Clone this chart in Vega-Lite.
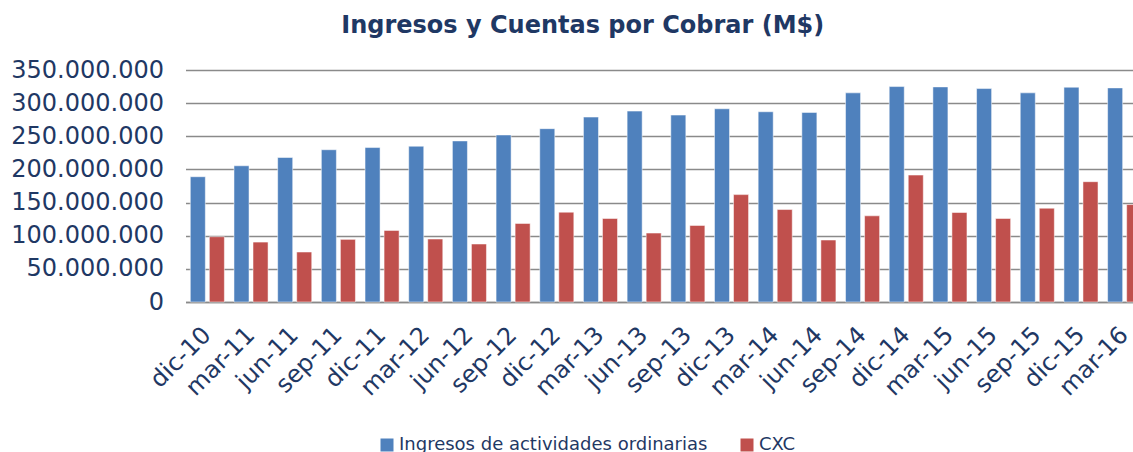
{
  "$schema": "https://vega.github.io/schema/vega-lite/v6.json",
  "width": 947.5,
  "height": 232,
  "autosize": {"type": "none"},
  "padding": {"left": 185.5, "top": 70, "right": 0, "bottom": 150},
  "background": "white",
  "title": {
    "text": "Ingresos y Cuentas por Cobrar (M$)",
    "font": "DejaVu Sans",
    "fontSize": 24,
    "fontWeight": "bold",
    "color": "#1F3864",
    "anchor": "middle",
    "frame": "group",
    "dx": -76.5,
    "offset": 20
  },
  "data": {
    "values": [
      {"q": "dic-10", "serie": "Ingresos de actividades ordinarias", "v": 189000000},
      {"q": "dic-10", "serie": "CXC", "v": 98500000},
      {"q": "mar-11", "serie": "Ingresos de actividades ordinarias", "v": 205500000},
      {"q": "mar-11", "serie": "CXC", "v": 90400000},
      {"q": "jun-11", "serie": "Ingresos de actividades ordinarias", "v": 218000000},
      {"q": "jun-11", "serie": "CXC", "v": 75400000},
      {"q": "sep-11", "serie": "Ingresos de actividades ordinarias", "v": 229700000},
      {"q": "sep-11", "serie": "CXC", "v": 94500000},
      {"q": "dic-11", "serie": "Ingresos de actividades ordinarias", "v": 233000000},
      {"q": "dic-11", "serie": "CXC", "v": 108000000},
      {"q": "mar-12", "serie": "Ingresos de actividades ordinarias", "v": 235000000},
      {"q": "mar-12", "serie": "CXC", "v": 95000000},
      {"q": "jun-12", "serie": "Ingresos de actividades ordinarias", "v": 243000000},
      {"q": "jun-12", "serie": "CXC", "v": 87500000},
      {"q": "sep-12", "serie": "Ingresos de actividades ordinarias", "v": 252000000},
      {"q": "sep-12", "serie": "CXC", "v": 118500000},
      {"q": "dic-12", "serie": "Ingresos de actividades ordinarias", "v": 261500000},
      {"q": "dic-12", "serie": "CXC", "v": 135500000},
      {"q": "mar-13", "serie": "Ingresos de actividades ordinarias", "v": 279000000},
      {"q": "mar-13", "serie": "CXC", "v": 126000000},
      {"q": "jun-13", "serie": "Ingresos de actividades ordinarias", "v": 288000000},
      {"q": "jun-13", "serie": "CXC", "v": 104000000},
      {"q": "sep-13", "serie": "Ingresos de actividades ordinarias", "v": 282000000},
      {"q": "sep-13", "serie": "CXC", "v": 115500000},
      {"q": "dic-13", "serie": "Ingresos de actividades ordinarias", "v": 291500000},
      {"q": "dic-13", "serie": "CXC", "v": 162000000},
      {"q": "mar-14", "serie": "Ingresos de actividades ordinarias", "v": 287000000},
      {"q": "mar-14", "serie": "CXC", "v": 139500000},
      {"q": "jun-14", "serie": "Ingresos de actividades ordinarias", "v": 286000000},
      {"q": "jun-14", "serie": "CXC", "v": 93500000},
      {"q": "sep-14", "serie": "Ingresos de actividades ordinarias", "v": 315500000},
      {"q": "sep-14", "serie": "CXC", "v": 130000000},
      {"q": "dic-14", "serie": "Ingresos de actividades ordinarias", "v": 325000000},
      {"q": "dic-14", "serie": "CXC", "v": 191500000},
      {"q": "mar-15", "serie": "Ingresos de actividades ordinarias", "v": 324500000},
      {"q": "mar-15", "serie": "CXC", "v": 135000000},
      {"q": "jun-15", "serie": "Ingresos de actividades ordinarias", "v": 322000000},
      {"q": "jun-15", "serie": "CXC", "v": 126000000},
      {"q": "sep-15", "serie": "Ingresos de actividades ordinarias", "v": 315500000},
      {"q": "sep-15", "serie": "CXC", "v": 141500000},
      {"q": "dic-15", "serie": "Ingresos de actividades ordinarias", "v": 324000000},
      {"q": "dic-15", "serie": "CXC", "v": 181500000},
      {"q": "mar-16", "serie": "Ingresos de actividades ordinarias", "v": 323000000},
      {"q": "mar-16", "serie": "CXC", "v": 147000000}
    ]
  },
  "mark": {"type": "bar", "stroke": "#ffffff", "strokeOpacity": 0.5, "strokeWidth": 1},
  "encoding": {
    "x": {
      "field": "q",
      "type": "nominal",
      "sort": null,
      "title": null,
      "scale": {"range": [0, 961], "paddingInner": 0.22, "paddingOuter": 0.11},
      "axis": {
        "labelAngle": -45,
        "labelAlign": "right",
        "labelBaseline": "middle",
        "labelFont": "DejaVu Sans",
        "labelFontSize": 24,
        "labelColor": "#1F3864",
        "labelPadding": 29,
        "labelDx": 1,
        "ticks": false,
        "domainColor": "#8a8a8a",
        "domainWidth": 1.5,
        "grid": false
      }
    },
    "xOffset": {
      "field": "serie",
      "type": "nominal",
      "sort": ["Ingresos de actividades ordinarias", "CXC"],
      "scale": {"paddingInner": 0.21, "paddingOuter": 0}
    },
    "y": {
      "field": "v",
      "type": "quantitative",
      "title": null,
      "scale": {"domain": [0, 350000000]},
      "axis": {
        "values": [0, 50000000, 100000000, 150000000, 200000000, 250000000, 300000000, 350000000],
        "format": ",d",
        "labelFont": "DejaVu Sans",
        "labelFontSize": 24,
        "labelColor": "#1F3864",
        "labelPadding": 22,
        "ticks": false,
        "domain": false,
        "grid": true,
        "gridColor": "#8a8a8a",
        "gridWidth": 1.5
      }
    },
    "color": {
      "field": "serie",
      "type": "nominal",
      "scale": {"domain": ["Ingresos de actividades ordinarias", "CXC"], "range": ["#4F81BD", "#C0504D"]},
      "legend": {
        "title": null,
        "orient": "none",
        "direction": "horizontal",
        "legendX": 192.5,
        "legendY": 366,
        "symbolType": "square",
        "symbolSize": 169,
        "symbolStrokeWidth": 0,
        "labelFont": "DejaVu Sans",
        "labelFontSize": 18,
        "labelColor": "#1F3864",
        "labelOffset": 3,
        "labelLimit": 0,
        "columnPadding": 30
      }
    }
  },
  "config": {
    "locale": {"number": {"decimal": ",", "thousands": ".", "grouping": [3], "currency": ["$", ""]}},
    "view": {"stroke": null}
  }
}
